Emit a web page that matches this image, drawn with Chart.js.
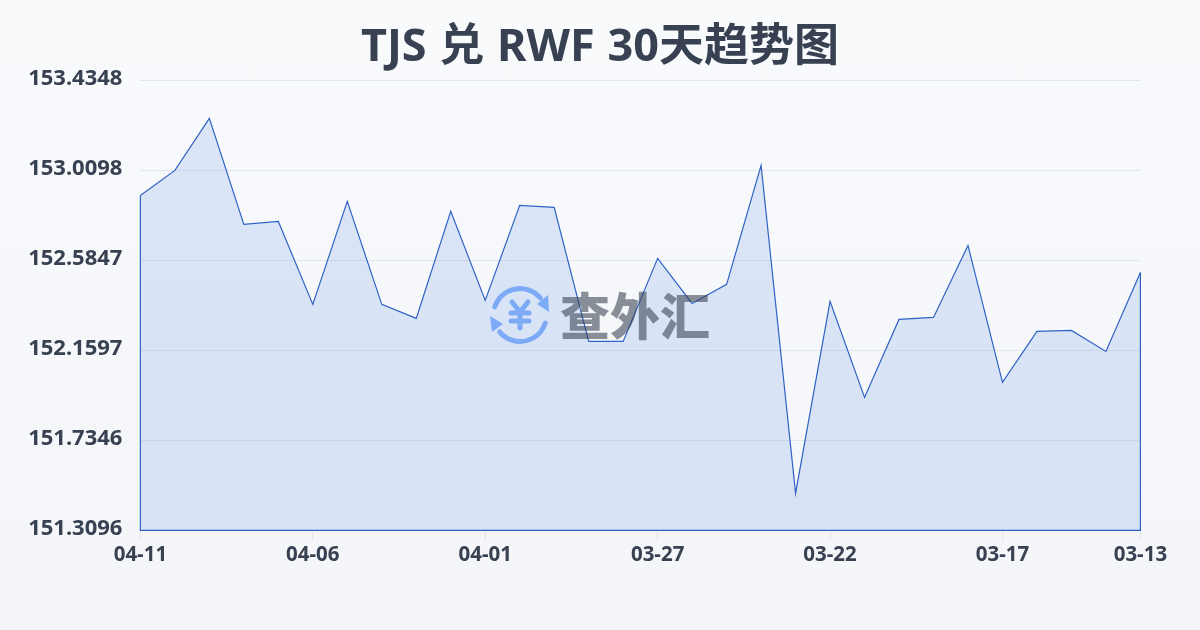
<!DOCTYPE html>
<html>
<head>
<meta charset="utf-8">
<title>TJS 兑 RWF 30天趋势图</title>
<script src="https://cdn.jsdelivr.net/npm/chart.js@4/dist/chart.umd.min.js"></script>
<style>
  html, body { margin: 0; padding: 0; width: 1200px; height: 630px; overflow: hidden; }
  body { position: relative; background: linear-gradient(180deg, #f8fafc 0%, #f3f5f8 100%); }
  canvas { display: block; }
  h1 {
    position: absolute; left: 0; top: 13px; width: 1200px; margin: 0;
    text-align: center; color: #374151; word-spacing: 1px;
    font: 700 45px/62px "Noto Sans", "Noto Sans CJK SC", sans-serif;
  }
</style>
</head>
<body>
<h1 id="title"></h1>
<canvas id="myChart" width="1200" height="630"></canvas>
<script>
const titleText = 'TJS 兑 RWF 30天趋势图';
const dates = ['04-11','04-10','04-09','04-08','04-07','04-06','04-05','04-04','04-03','04-02',
  '04-01','03-31','03-30','03-29','03-28','03-27','03-26','03-25','03-24','03-23',
  '03-22','03-21','03-20','03-19','03-18','03-17','03-16','03-15','03-14','03-13'];
const rates = [152.8917,153.0098,153.2553,152.7547,152.7689,152.3769,152.8634,152.3769,152.3108,152.8161,
  152.3958,152.8445,152.8350,152.2022,152.2022,152.5942,152.3816,152.4714,153.0334,151.4843,
  152.3911,151.9377,152.3061,152.3155,152.6556,152.0085,152.2494,152.2541,152.1550,152.5280];
const xTickLabels = ['04-11','04-06','04-01','03-27','03-22','03-17','03-13'];
const yTickLabels = [151.3096,151.7346,152.1597,152.5847,153.0098,153.4348];

const fontFamily = '"Noto Sans","Noto Sans CJK SC",sans-serif';
const textColor = '#374151';
const lineColor = '#2f62c4';

document.getElementById('title').textContent = titleText;

// closing edges of the area, then the semi transparent watermark on top of everything
const watermark = {
  id: 'watermark',
  afterDatasetsDraw(chart) {
    const pts = chart.getDatasetMeta(0).data;
    const bottom = chart.chartArea.bottom;
    const ctx = chart.ctx;
    ctx.save();
    ctx.strokeStyle = lineColor;
    ctx.lineWidth = 1.2;
    ctx.beginPath();
    ctx.moveTo(pts[0].x, pts[0].y);
    ctx.lineTo(pts[0].x, bottom);
    ctx.lineTo(pts[pts.length - 1].x, bottom);
    ctx.lineTo(pts[pts.length - 1].x, pts[pts.length - 1].y);
    ctx.stroke();
    ctx.restore();

    const cx = 520, cy = 315;
    ctx.save();
    ctx.globalAlpha = 0.58;
    ctx.strokeStyle = '#3b82f6';
    ctx.fillStyle = '#3b82f6';
    ctx.lineCap = 'round';
    ctx.lineWidth = 5;
    ctx.beginPath();
    ctx.arc(cx, cy, 26.5, Math.PI * 1.1, Math.PI * 1.78);
    ctx.stroke();
    ctx.beginPath();
    ctx.arc(cx, cy, 26.5, Math.PI * 0.1, Math.PI * 0.78);
    ctx.stroke();
    ctx.beginPath();
    ctx.moveTo(549, 312); ctx.lineTo(548, 295); ctx.lineTo(537, 304);
    ctx.closePath(); ctx.fill();
    ctx.beginPath();
    ctx.moveTo(490, 316); ctx.lineTo(492, 332); ctx.lineTo(503, 324);
    ctx.closePath(); ctx.fill();
    ctx.lineWidth = 5;
    ctx.beginPath();
    ctx.moveTo(cx - 8, cy - 13); ctx.lineTo(cx, cy - 3); ctx.lineTo(cx + 8, cy - 13);
    ctx.moveTo(cx, cy - 3); ctx.lineTo(cx, cy + 13);
    ctx.moveTo(cx - 9, cy - 2); ctx.lineTo(cx + 9, cy - 2);
    ctx.moveTo(cx - 9, cy + 6); ctx.lineTo(cx + 9, cy + 6);
    ctx.stroke();
    ctx.fillStyle = '#374151';
    ctx.font = '900 50px "Noto Sans CJK SC"';
    ctx.textAlign = 'left';
    ctx.textBaseline = 'middle';
    ctx.fillText('查外汇', 560, 316);
    ctx.restore();
  }
};

const ctx = document.getElementById('myChart').getContext('2d');
const myChart = new Chart(ctx, {
  type: 'line',
  data: {
    labels: dates,
    datasets: [{
      data: rates,
      borderColor: lineColor,
      borderWidth: 1.2,
      tension: 0,
      pointRadius: 0,
      fill: 'start',
      backgroundColor: 'rgba(66,122,232,0.16)'
    }]
  },
  options: {
    responsive: false,
    animation: false,
    layout: { padding: { left: 0, right: 59.6, top: 80.4, bottom: 0 } },
    plugins: {
      legend: { display: false },
      tooltip: { enabled: false },
      title: { display: false }
    },
    scales: {
      x: {
        offset: false,
        grid: { drawOnChartArea: false, drawTicks: true, tickLength: 10, color: '#e2e5ea' },
        border: { display: false },
        afterBuildTicks(scale) {
          scale.ticks = scale.ticks.filter(t => xTickLabels.includes(dates[t.value]));
        },
        afterFit(scale) { scale.height = 99.6; },
        ticks: {
          autoSkip: false,
          maxRotation: 0,
          padding: 2,
          color: textColor,
          font: { family: fontFamily, size: 20.5, weight: '700' },
          callback(value) { return dates[value]; }
        }
      },
      y: {
        min: yTickLabels[0],
        max: yTickLabels[yTickLabels.length - 1],
        grid: { drawTicks: false, color: '#e2e6ee', lineWidth: 1 },
        border: { display: false },
        afterBuildTicks(scale) {
          scale.ticks = yTickLabels.map(v => ({ value: v }));
        },
        afterFit(scale) { scale.width = 140.4; },
        ticks: {
          padding: 18,
          labelOffset: -1.5,
          color: textColor,
          font: { family: fontFamily, size: 22, weight: '700' },
          callback(value) { return value.toFixed(4); }
        }
      }
    }
  },
  plugins: [watermark]
});
</script>
</body>
</html>
